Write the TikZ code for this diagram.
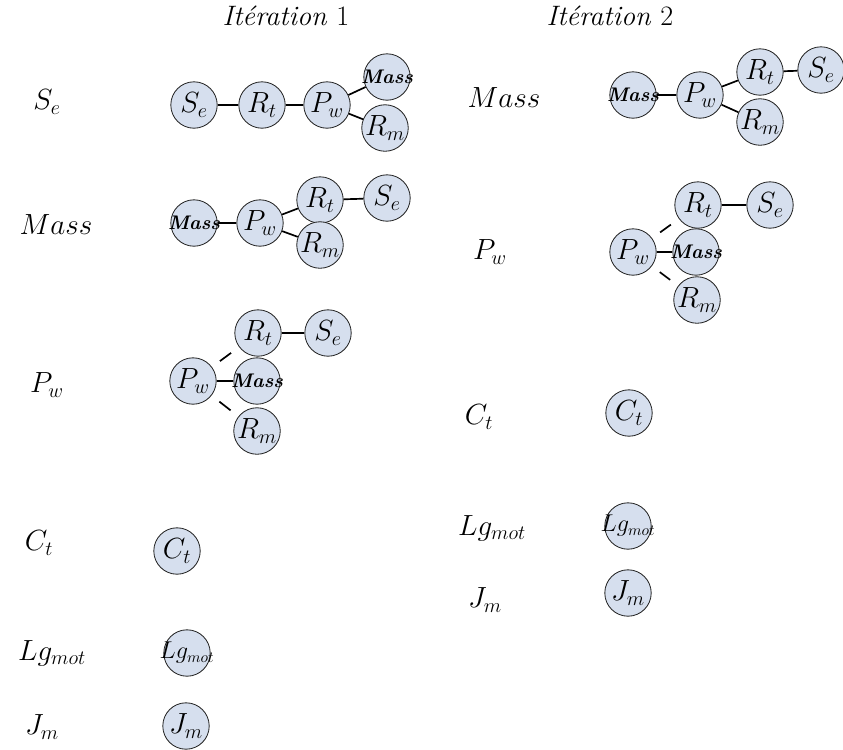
\documentclass[tikz,border=0pt]{standalone}
\usepackage{amsmath,amssymb}
\usepackage{tikz}
\usetikzlibrary{positioning}

\begin{document}
\begin{tikzpicture}[
    x=0.025cm, y=-0.025cm,
    var/.style={circle, draw=black!85, line width=0.6pt, fill={rgb,255:red,214;green,223;blue,238}, minimum size=33pt, inner sep=0pt, font=\fontsize{21}{23}\selectfont},
    lab/.style={font=\fontsize{20}{22}\selectfont},
    ttl/.style={font=\fontsize{20}{22}\selectfont\itshape},
    lnk/.style={line width=1.2pt},
    gap/.style={lnk, shorten >=7pt, shorten <=7pt}
]
\useasboundingbox (0,0) rectangle (843,750);

\node[ttl] (t1) at (286,16) {Itération \upshape 1};
\node[ttl] (t2) at (610,16) {Itération \upshape 2};

\node[lab] (l1se) at (47,102) {$S_e$};
\node[lab] (l1ma) at (56,225) {$Mass$};
\node[lab] (l1pw) at (47,385) {$P_w$};
\node[lab] (l1ct) at (39,543) {$C_t$};
\node[lab] (l1lg) at (52,653) {$Lg_{mot}$};
\node[lab] (l1jm) at (42,727) {$J_m$};

\node[lab] (l2ma) at (504,98) {$Mass$};
\node[lab] (l2pw) at (490,252) {$P_w$};
\node[lab] (l2ct) at (479,417) {$C_t$};
\node[lab] (l2lg) at (492,528) {$Lg_{mot}$};
\node[lab] (l2jm) at (485,600) {$J_m$};

\node[var] (se1) at (194,105) {$S_e$};
\node[var] (rt1) at (262,105) {$R_t$};
\node[var] (pw1) at (327,105) {$P_w$};
\node[var] (ma1) at (387,77) {\makebox[0pt]{\fontsize{14}{15}\selectfont\textbf{\textit{Mass}}}};
\node[var] (rm1) at (385,128) {$R_m$};

\node[var] (ma2) at (194,223) {\makebox[0pt]{\fontsize{14}{15}\selectfont\textbf{\textit{Mass}}}};
\node[var] (pw2) at (260,223) {$P_w$};
\node[var] (rt2) at (320,200) {$R_t$};
\node[var] (se2) at (387,198) {$S_e$};
\node[var] (rm2) at (320,245) {$R_m$};

\node[var] (pw3) at (193,381) {$P_w$};
\node[var] (rt3) at (258,333) {$R_t$};
\node[var] (se3) at (328,333) {$S_e$};
\node[var] (ma3) at (257,381) {\makebox[0pt]{\fontsize{14}{15}\selectfont\textbf{\textit{Mass}}}};
\node[var] (rm3) at (257,431) {$R_m$};

\node[var] (ct1) at (177,551) {$C_t$};
\node[var] (lg1) at (187,653) {\makebox[0pt]{\fontsize{16}{17}\selectfont$Lg_{mot}$}};
\node[var] (jm1) at (186,726) {$J_m$};

\node[var] (ma4) at (633,95) {\makebox[0pt]{\fontsize{14}{15}\selectfont\textbf{\textit{Mass}}}};
\node[var] (pw4) at (700,95) {$P_w$};
\node[var] (rt4) at (760,72) {$R_t$};
\node[var] (se4) at (821,70) {$S_e$};
\node[var] (rm4) at (760,122) {$R_m$};

\node[var] (pw5) at (633,252) {$P_w$};
\node[var] (rt5) at (698,205) {$R_t$};
\node[var] (se5) at (770,205) {$S_e$};
\node[var] (ma5) at (696,252) {\makebox[0pt]{\fontsize{14}{15}\selectfont\textbf{\textit{Mass}}}};
\node[var] (rm5) at (697,300) {$R_m$};

\node[var] (ct2) at (629,413) {$C_t$};
\node[var] (lg2) at (628,526) {\makebox[0pt]{\fontsize{16}{17}\selectfont$Lg_{mot}$}};
\node[var] (jm2) at (628,593) {$J_m$};

\draw[lnk] (se1) -- (rt1);
\draw[lnk] (rt1) -- (pw1);
\draw[lnk] (pw1) -- (ma1);
\draw[lnk] (pw1) -- (rm1);

\draw[lnk] (ma2) -- (pw2);
\draw[lnk] (pw2) -- (rt2);
\draw[lnk] (rt2) -- (se2);
\draw[lnk] (pw2) -- (rm2);

\draw[gap] (pw3) -- (rt3);
\draw[lnk] (pw3) -- (ma3);
\draw[lnk] (rt3) -- (se3);
\draw[gap] (pw3) -- (rm3);

\draw[lnk] (ma4) -- (pw4);
\draw[lnk] (pw4) -- (rt4);
\draw[lnk] (rt4) -- (se4);
\draw[lnk] (pw4) -- (rm4);

\draw[gap] (pw5) -- (rt5);
\draw[lnk] (pw5) -- (ma5);
\draw[lnk] (rt5) -- (se5);
\draw[gap] (pw5) -- (rm5);
\end{tikzpicture}
\end{document}
